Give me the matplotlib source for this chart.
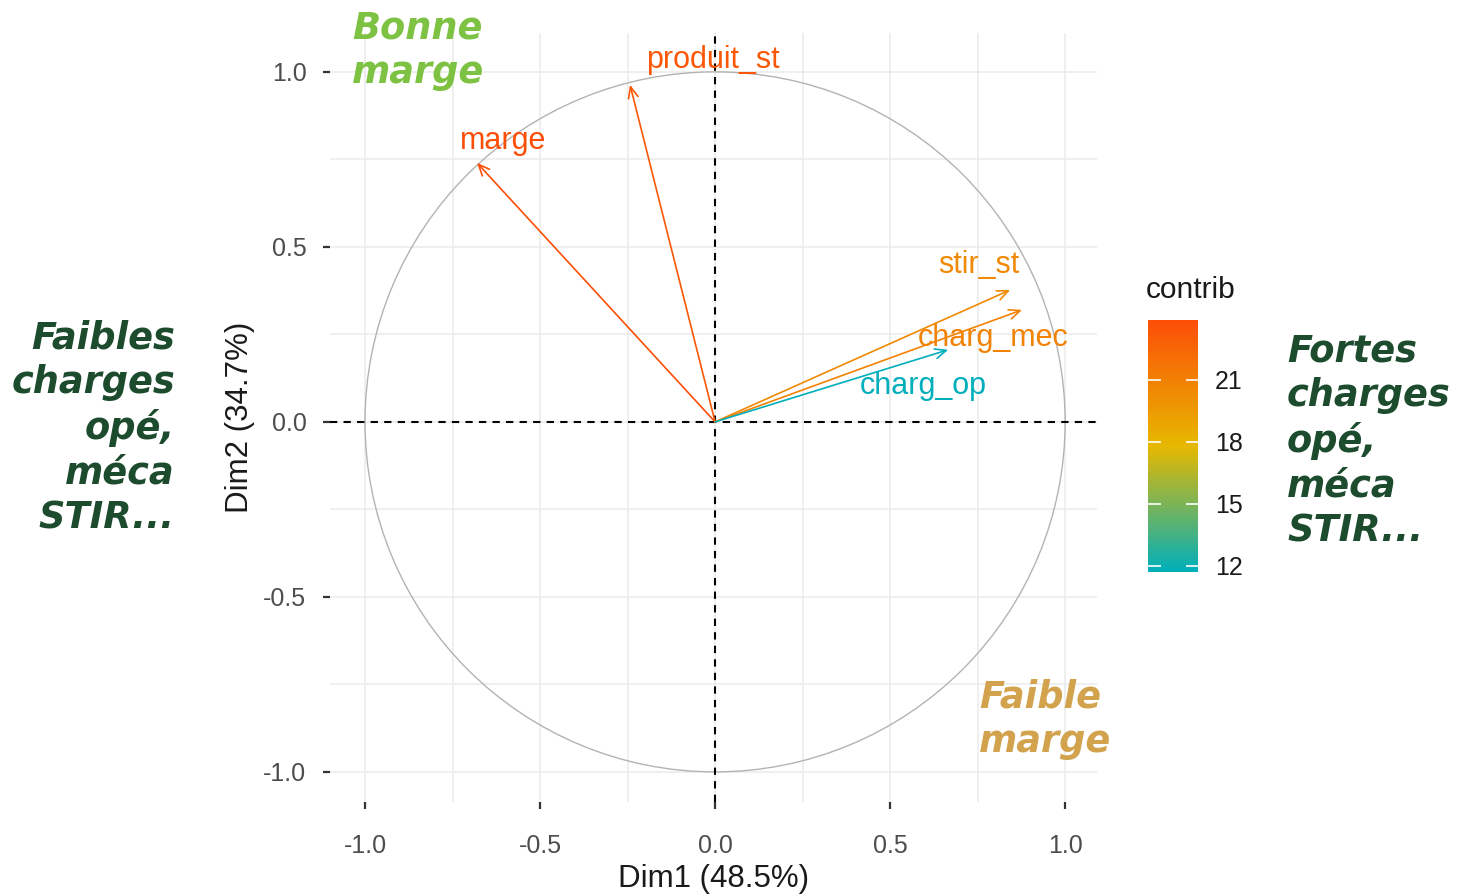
import numpy as np
import matplotlib
matplotlib.use("Agg")
import matplotlib.pyplot as plt
from matplotlib.colors import LinearSegmentedColormap, Normalize
from matplotlib.patches import Circle

# PCA variable coordinates (Dim1, Dim2) and contributions
variables = ["marge", "produit_st", "stir_st", "charg_mec", "charg_op"]
dim1 = [-0.68, -0.243, 0.843, 0.877, 0.666]
dim2 = [0.74, 0.963, 0.377, 0.32, 0.206]
contrib = [23.9, 23.3, 20.5, 20.9, 11.7]
ticks_xy = [-1.0, -0.5, 0.0, 0.5, 1.0]
cbar_ticks = [12, 15, 18, 21]

# label offsets in pixels (from arrow tip)
label_off = {"marge": (26, 22), "produit_st": (83, 25), "stir_st": (-31, 25),
             "charg_mec": (-29, -28), "charg_op": (-25, -36)}

cmap = LinearSegmentedColormap.from_list("contrib", ["#00AFBB", "#E7B800", "#FC4E07"])
norm = Normalize(vmin=min(contrib), vmax=max(contrib))

W, H = 1467, 896
fig = plt.figure(figsize=(W / 100, H / 100), dpi=100)
fig.patch.set_facecolor("white")
FONT = "Liberation Sans"

ax = fig.add_axes([330 / W, 1 - 802 / H, (1097 - 330) / W, (802 - 33) / H])
ax.set_xlim(-1.1, 1.091)
ax.set_ylim(-1.086, 1.111)
for s in ax.spines.values():
    s.set_visible(False)

# grid (major + minor look alike)
grid_vals = np.arange(-1.0, 1.01, 0.25)
for g in grid_vals:
    ax.axvline(g, color="#EBEBEB", lw=1.1, zorder=0)
    ax.axhline(g, color="#EBEBEB", lw=1.1, zorder=0)

ax.add_patch(Circle((0, 0), 1.0, fill=False, ec="#B3B3B3", lw=1.0, zorder=1))
ax.axhline(0, color="black", ls=(0, (3.5, 3)), lw=1.5, zorder=2)
ax.axvline(0, color="black", ls=(0, (3.5, 3)), lw=1.5, zorder=2)

for name, x, y, c in zip(variables, dim1, dim2, contrib):
    col = cmap(norm(c))
    ax.annotate("", xy=(x, y), xytext=(0, 0),
                arrowprops=dict(arrowstyle="->,head_length=0.8,head_width=0.35",
                                color=col, lw=1.2, shrinkA=0, shrinkB=0), zorder=3)
    dx, dy = label_off[name]
    ax.annotate(name, xy=(x, y), xytext=(dx, dy), textcoords="offset pixels",
                ha="center", va="center", fontsize=22, color=col,
                family=FONT, zorder=4)

ax.set_xticks(ticks_xy)
ax.set_yticks(ticks_xy)
ax.set_xticklabels([f"{t:.1f}" for t in ticks_xy])
ax.set_yticklabels([f"{t:.1f}" for t in ticks_xy])
ax.tick_params(direction="out", length=5, width=1.6, color="#333333",
               labelcolor="#4D4D4D", labelsize=18)
ax.tick_params(axis="x", pad=18)
ax.tick_params(axis="y", pad=12)
for lab in ax.get_xticklabels() + ax.get_yticklabels():
    lab.set_family(FONT)
ax.set_xlabel("Dim1 (48.5%)", fontsize=22.5, family=FONT, labelpad=4, color="#1A1A1A")
ax.set_ylabel("Dim2 (34.7%)", fontsize=22.5, family=FONT, labelpad=6, color="#1A1A1A")

# colorbar
cax = fig.add_axes([1148 / W, 1 - 572 / H, 50 / W, (572 - 320) / H])
sm = plt.cm.ScalarMappable(norm=norm, cmap=cmap)
cb = fig.colorbar(sm, cax=cax, ticks=cbar_ticks)
cb.outline.set_visible(False)
cax.tick_params(direction="in", length=9, width=1.2, color="white",
                left=True, right=True, labelsize=18, labelcolor="#1A1A1A", pad=12)
for lab in cax.get_yticklabels():
    lab.set_family(FONT)
fig.text(1146 / W, 1 - 290 / H, "contrib", fontsize=21.5, family=FONT,
         ha="left", va="center", color="#1A1A1A")

# annotations
heavy = dict(family="DejaVu Sans", fontweight="bold", style="oblique",
             fontsize=26.5, linespacing=1.27)
fig.text(352 / W, 1 - 50 / H, "Bonne\nmarge", color="#7DC242", ha="left", va="center", **heavy)
fig.text(175 / W, 1 - 428 / H, "Faibles\ncharges\nopé,\nméca\nSTIR...", color="#1C4B2E",
         ha="right", va="center", multialignment="right", **heavy)
fig.text(1287 / W, 1 - 441 / H, "Fortes\ncharges\nopé,\nméca\nSTIR...", color="#1C4B2E",
         ha="left", va="center", multialignment="left", **heavy)
fig.text(979 / W, 1 - 719 / H, "Faible\nmarge", color="#D2A24C", ha="left", va="center", **heavy)

fig.savefig("out.png", dpi=100, facecolor="white")
